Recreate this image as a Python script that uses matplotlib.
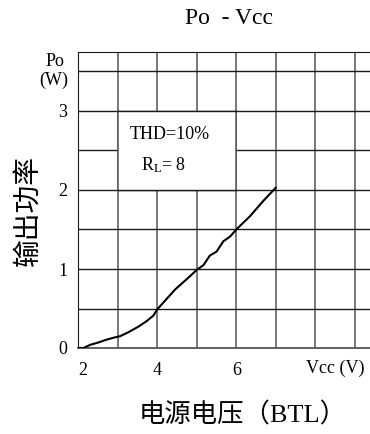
import matplotlib
matplotlib.use("Agg")
import matplotlib.pyplot as plt
from matplotlib.patches import Rectangle

plt.rcParams['mathtext.fontset'] = 'custom'
plt.rcParams['mathtext.rm'] = 'Liberation Serif'
plt.rcParams['mathtext.it'] = 'Liberation Serif'

# Output power vs supply voltage (BTL, THD = 10%, RL = 8)
vcc = [2.0, 2.13, 2.3, 2.51, 2.68, 2.89, 3.06, 3.27, 3.52, 3.73, 3.9, 4.0,
       4.45, 4.83, 5.0, 5.17, 5.33, 5.5, 5.67, 5.84, 6.02, 6.35, 6.68, 7.0]
po = [0.0, 0.0, 0.04, 0.07, 0.10, 0.13, 0.15, 0.20, 0.27, 0.34, 0.41, 0.49,
      0.74, 0.91, 0.99, 1.05, 1.17, 1.22, 1.35, 1.41, 1.51, 1.67, 1.86, 2.03]

x_ticks = [2, 4, 6]
y_ticks = [0, 1, 2, 3]
x_grid = [3, 4, 5, 6, 7, 8, 9]
y_grid = [0.5, 1.0, 1.5, 2.0, 2.5, 3.0, 3.5]

title = "Po  - Vcc"
x_unit = "Vcc (V)"
y_unit = ["Po", "(W)"]
y_title = "输出功率"
x_title = "电源电压（BTL）"
notes = ["THD=10%", r"R$_\mathrm{L}$= 8"]

serif = "Liberation Serif"
cjk = ["Liberation Serif", "Noto Sans CJK SC"]

W, H = 370, 434
fig = plt.figure(figsize=(W / 100, H / 100), dpi=100)
left, bottom, top = 78.3, 348.0, 52.0
px_per_v = 39.5
xmin, xmax = 2.0, 9.5
ax = fig.add_axes([left / W, (H - bottom) / H,
                   (xmax - xmin) * px_per_v / W, (bottom - top) / H])
ax.set_xlim(xmin, xmax)
ax.set_ylim(0, (bottom - top) / 79.0)

for xv in x_grid:
    ax.axvline(xv, color="#555555", lw=1.1, zorder=1)
for yv in y_grid:
    ax.axhline(yv, color="#1a1a1a", lw=1.0, zorder=1)

# blank panel behind the test conditions
ax.add_patch(Rectangle((3.0, 2.0), 3.0, 1.0, facecolor="white",
                       edgecolor="none", zorder=2))
for xv in (3.0, 6.0):
    ax.plot([xv, xv], [2.0, 3.0], color="#555555", lw=1.1, zorder=3)
for yv in (2.0, 3.0):
    ax.plot([3.0, 6.0], [yv, yv], color="#1a1a1a", lw=1.0, zorder=3)

ax.plot(vcc, po, color="black", lw=1.5, zorder=4, solid_capstyle="round")

ax.spines["right"].set_visible(False)
ax.spines["left"].set_color("#1a1a1a")
ax.spines["top"].set_color("#1a1a1a")
ax.spines["bottom"].set_color("#555555")
ax.spines["bottom"].set_linewidth(1.3)

ax.set_xticks(x_ticks)
ax.set_xticklabels([str(t) for t in x_ticks], fontfamily=serif, fontsize=13)
ax.set_yticks(y_ticks)
ax.set_yticklabels([str(t) for t in y_ticks], fontfamily=serif, fontsize=13)
ax.tick_params(axis="x", length=0, pad=10)
ax.tick_params(axis="y", length=0, pad=8)
# the first voltage label sits a little right of its grid line
ax.get_xticklabels()[0].set_horizontalalignment("left")
ax.get_xticklabels()[0].set_x(1.98)

ax.text(8.5, -0.26, x_unit, fontfamily=serif, fontsize=13,
        ha="center", va="center", clip_on=False)
ax.text(4.32, 2.70, notes[0], fontfamily=serif, fontsize=13,
        ha="center", va="center", zorder=5)
ax.text(4.17, 2.32, notes[1], fontfamily=serif, fontsize=13,
        ha="center", va="center", zorder=5)

fig.text(55 / W, 1 - 62 / H, y_unit[0], fontfamily=serif, fontsize=13,
         ha="center", va="center")
fig.text(54 / W, 1 - 80 / H, y_unit[1], fontfamily=serif, fontsize=13,
         ha="center", va="center")
fig.text(229 / W, 1 - 19 / H, title, fontfamily=serif, fontsize=17,
         ha="center", va="center")
fig.text(29 / W, 1 - 211 / H, y_title, family=cjk, fontsize=20,
         rotation=90, ha="center", va="center", fontweight="light")
fig.text(243 / W, 1 - 415 / H, x_title, family=cjk, fontsize=19,
         ha="center", va="center", fontweight="light")

fig.savefig("out.png", dpi=100)
